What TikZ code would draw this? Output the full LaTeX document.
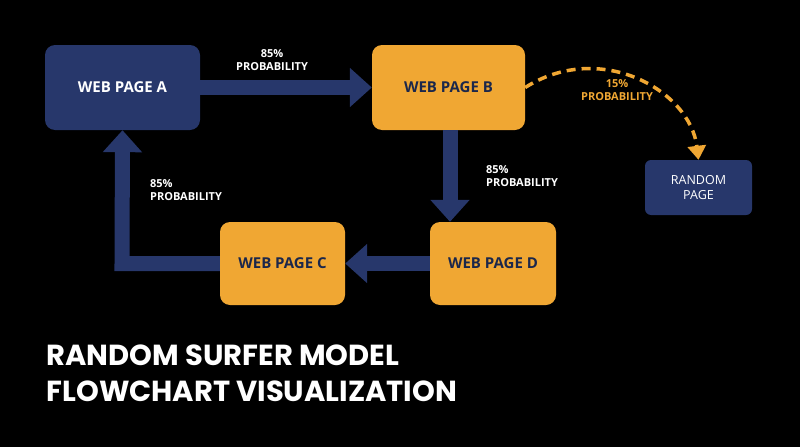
\documentclass[tikz,border=0pt]{standalone}
\usepackage{fontspec}
\setmainfont{Open Sans}
\newfontfamily\titlefont{Poppins}
\usetikzlibrary{arrows.meta}
\definecolor{navy}{HTML}{27376B}
\definecolor{gold}{HTML}{F0A733}
\begin{document}
\begin{tikzpicture}[x=1pt,y=-1pt,
  box/.style={rounded corners=10pt,inner sep=0pt,font=\bfseries\fontsize{15}{17}\selectfont,align=center},
  nbox/.style={box,fill=navy,text=white},
  obox/.style={box,fill=gold,text=navy!70!black},
  flow/.style={draw=navy,line width=15pt,line join=miter,-{Triangle[length=22pt,width=38pt]}},
  lbl/.style={text=white,font=\bfseries\fontsize{11}{13}\selectfont,align=left}]
\fill[black] (0,0) rectangle (800,447);
\useasboundingbox (0,0) rectangle (800,447);
\node[nbox,minimum width=155pt,minimum height=85pt] (A) at (122.5,87.5) {WEB PAGE A};
\node[obox,minimum width=153pt,minimum height=85pt] (B) at (448.5,87.5) {WEB PAGE B};
\node[obox,minimum width=126pt,minimum height=83pt] (D) at (493,263.5) {WEB PAGE D};
\node[obox,minimum width=125pt,minimum height=83pt] (C) at (282.5,263.5) {WEB PAGE C};
\node[nbox,rounded corners=6pt,font=\fontsize{12.5}{15}\selectfont,minimum width=107pt,minimum height=55pt] (R) at (698.5,187.5) {RANDOM\\PAGE};
\draw[flow] (A.east) -- (B.west);
\draw[flow] (B.south -| 450,0) -- (D.north -| 450,0);
\draw[flow] (D.west) -- (C.east);
\draw[flow] (C.west) -- (122,263.5) -- (A.south);
\draw[gold,line width=3.5pt,dash pattern=on 9pt off 6pt,-{Triangle[length=14pt,width=18pt]}]
  (B.east) .. controls (600,40) and (690,90) .. (R.north);
\node[lbl,align=center] (l1) at (272,60) {85\%\\PROBABILITY};
\node[lbl] (l2) at (522,176) {85\%\\PROBABILITY};
\node[lbl] (l3) at (186,190) {85\%\\PROBABILITY};
\node[lbl,text=gold,align=center] (l4) at (617,90) {15\%\\PROBABILITY};
\node[anchor=west,text=white,align=left,font=\titlefont\bfseries\fontsize{29}{36}\selectfont] (T) at (43,373) {RANDOM SURFER MODEL\\FLOWCHART VISUALIZATION};
\end{tikzpicture}
\end{document}
